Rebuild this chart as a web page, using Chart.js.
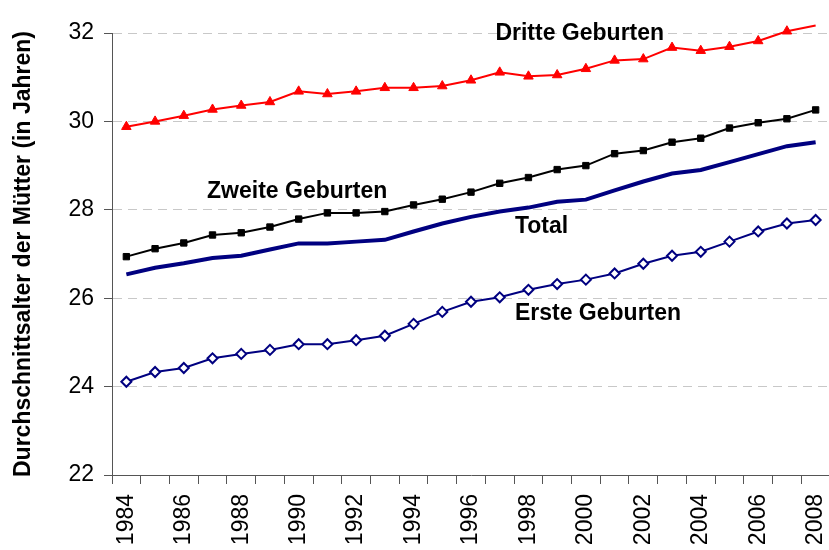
<!DOCTYPE html>
<html>
<head>
<meta charset="utf-8">
<script src="https://cdn.jsdelivr.net/npm/chart.js@4/dist/chart.umd.min.js"></script>
<style>
  html, body { margin: 0; padding: 0; background: #ffffff; }
  #wrap { width: 829px; height: 550px; overflow: hidden; position: relative; }
  canvas { display: block; }
</style>
</head>
<body>
<div id="wrap"><canvas id="c" width="837" height="550"></canvas></div>
<script>
const years = ['1984','1985','1986','1987','1988','1989','1990','1991','1992','1993','1994','1995','1996',
               '1997','1998','1999','2000','2001','2002','2003','2004','2005','2006','2007','2008'];
const dritteGeburten = [29.88, 30.00, 30.13, 30.27, 30.36, 30.44, 30.68, 30.62, 30.68, 30.76, 30.76, 30.80, 30.93,
                        31.11, 31.02, 31.05, 31.19, 31.38, 31.41, 31.67, 31.60, 31.69, 31.82, 32.04, 32.17];
const zweiteGeburten = [26.94, 27.12, 27.25, 27.43, 27.48, 27.61, 27.79, 27.93, 27.93, 27.96, 28.11, 28.24, 28.40,
                        28.60, 28.73, 28.91, 29.00, 29.27, 29.34, 29.53, 29.62, 29.85, 29.97, 30.06, 30.26];
const total = [26.54, 26.69, 26.79, 26.91, 26.96, 27.10, 27.24, 27.24, 27.28, 27.32, 27.51, 27.69, 27.84,
               27.96, 28.05, 28.18, 28.23, 28.44, 28.64, 28.82, 28.90, 29.08, 29.26, 29.44, 29.53];
const ersteGeburten = [24.11, 24.33, 24.42, 24.64, 24.74, 24.83, 24.96, 24.96, 25.05, 25.15, 25.42, 25.69, 25.92,
                       26.02, 26.19, 26.32, 26.42, 26.56, 26.78, 26.96, 27.05, 27.28, 27.51, 27.69, 27.77];
const yTicks = [22, 24, 26, 28, 30, 32];
const seriesNames = ['Dritte Geburten', 'Zweite Geburten', 'Total', 'Erste Geburten'];
const yTitle = 'Durchschnittsalter der Mütter (in Jahren)';

// label anchors in data coordinates (category index, value)
const labelAnchors = [
  { text: seriesNames[0], idx: 12.85, val: 31.98 },
  { text: seriesNames[1], idx: 2.81,  val: 28.41 },
  { text: seriesNames[2], idx: 13.53, val: 27.61 },
  { text: seriesNames[3], idx: 13.53, val: 25.64 }
];

const FONT = "'Liberation Sans', Arial, sans-serif";

const labelPlugin = {
  id: 'seriesLabels',
  afterDatasetsDraw(chart) {
    const ctx = chart.ctx, xs = chart.scales.x, ys = chart.scales.y;
    ctx.save();
    ctx.font = "bold 23px " + FONT;
    ctx.fillStyle = '#000000';
    ctx.textAlign = 'left';
    ctx.textBaseline = 'middle';
    labelAnchors.forEach(a => {
      ctx.fillText(a.text, xs.getPixelForValue(a.idx), ys.getPixelForValue(a.val));
    });
    ctx.restore();
  }
};

new Chart(document.getElementById('c'), {
  type: 'line',
  data: {
    labels: years,
    datasets: [
      { label: seriesNames[0], data: dritteGeburten, borderColor: '#FF0000', backgroundColor: '#FF0000',
        borderWidth: 2, pointStyle: 'triangle', pointRadius: 5.5, pointBorderWidth: 1, clip: false,
        pointBackgroundColor: '#FF0000', pointBorderColor: '#FF0000', tension: 0 },
      { label: seriesNames[1], data: zweiteGeburten, borderColor: '#000000', backgroundColor: '#000000',
        borderWidth: 2, pointStyle: 'rect', pointRadius: 4.5, pointBorderWidth: 1, clip: false,
        pointBackgroundColor: '#000000', pointBorderColor: '#000000', tension: 0 },
      { label: seriesNames[2], data: total, borderColor: '#000080', backgroundColor: '#000080',
        borderWidth: 4, pointRadius: 0, tension: 0, clip: false },
      { label: seriesNames[3], data: ersteGeburten, borderColor: '#000080', backgroundColor: '#000080',
        borderWidth: 2, pointStyle: 'rectRot', pointRadius: 5, pointBorderWidth: 2, clip: false,
        pointBackgroundColor: '#FFFFFF', pointBorderColor: '#000080', tension: 0 }
    ]
  },
  options: {
    responsive: false,
    animation: false,
    devicePixelRatio: 1,
    layout: { padding: { top: 33, left: 0, right: 0, bottom: 0 } },
    plugins: { legend: { display: false }, tooltip: { enabled: false } },
    scales: {
      x: {
        type: 'category',
        offset: true,
        afterFit(scale) { scale.height = 75; scale.paddingLeft = 0; scale.paddingRight = 0; },
        grid: { display: true, drawOnChartArea: false, offset: true, tickLength: 9, color: '#555555',
                lineWidth: 1, tickBorderDash: [] },
        border: { display: true, color: '#555555', width: 1 },
        ticks: {
          autoSkip: false, minRotation: 90, maxRotation: 90, padding: 10,
          color: '#000000', font: { family: FONT, size: 23 },
          callback(v, i) { return i % 2 === 0 ? years[i] : ''; }
        }
      },
      y: {
        min: yTicks[0], max: yTicks[yTicks.length - 1],
        afterFit(scale) { scale.width = 112; scale.paddingTop = 0; scale.paddingBottom = 0; },
        afterBuildTicks(scale) { scale.ticks = yTicks.map(v => ({ value: v })); },
        grid: { color: '#C8C8C8', lineWidth: 1, tickBorderDash: [],
                tickColor: '#555555', tickLength: 8, drawTicks: true },
        border: { display: true, color: '#555555', width: 1, dash: [9, 6] },
        ticks: { padding: 10, color: '#000000', font: { family: FONT, size: 23 } },
        title: { display: true, text: yTitle, color: '#000000',
                 font: { family: FONT, size: 23, weight: 'bold' }, padding: { top: 10, bottom: 0 } }
      }
    }
  },
  plugins: [labelPlugin]
});
</script>
</body>
</html>
